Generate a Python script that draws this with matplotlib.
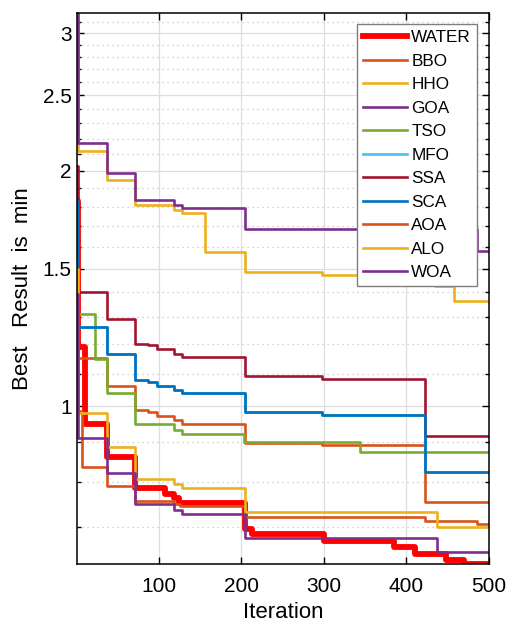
import numpy as np
import matplotlib
matplotlib.use("Agg")
import matplotlib.pyplot as plt

plt.rcParams["font.family"] = ["Liberation Sans", "DejaVu Sans"]

# best-so-far value per algorithm, stored as (iteration where value changes, value)
water_it = [1, 2, 11, 37, 71, 108, 118, 124, 204, 213, 300, 385, 410, 448, 470, 500]
water_val = [1.83, 1.19, 0.95, 0.861, 0.785, 0.772, 0.762, 0.752, 0.697, 0.687,
             0.673, 0.661, 0.646, 0.635, 0.628, 0.628]

bbo_it = [1, 2, 37, 71, 87, 98, 118, 128, 204, 298, 422, 500]
bbo_val = [1.45, 1.154, 1.062, 0.988, 0.982, 0.972, 0.960, 0.950, 0.897, 0.891, 0.753, 0.753]

hho_it = [1, 2, 37, 71, 118, 128, 156, 204, 298, 434, 458, 500]
hho_val = [3.07, 2.12, 1.948, 1.807, 1.782, 1.768, 1.573, 1.486, 1.470, 1.426, 1.363, 1.363]

goa_it = [1, 2, 37, 71, 118, 128, 204, 485, 500]
goa_val = [3.185, 2.169, 1.987, 1.835, 1.808, 1.792, 1.686, 1.580, 1.580]

tso_it = [1, 2, 23, 37, 71, 118, 128, 203, 344, 500]
tso_val = [1.5, 1.311, 1.1475, 1.038, 0.948, 0.932, 0.921, 0.899, 0.873, 0.873]

sca_it = [1, 2, 37, 71, 87, 98, 118, 128, 204, 298, 423, 500]
sca_val = [1.83, 1.263, 1.165, 1.080, 1.074, 1.062, 1.049, 1.039, 0.982, 0.973, 0.8225, 0.8225]

mfo_it = sca_it
mfo_val = sca_val

ssa_it = [1, 2, 37, 71, 87, 98, 118, 128, 204, 298, 423, 500]
ssa_val = [2.03, 1.40, 1.292, 1.2016, 1.196, 1.182, 1.167, 1.155, 1.0935, 1.083, 0.915, 0.915]

aoa_it = [1, 2, 7, 37, 71, 118, 126, 204, 423, 486, 500]
aoa_val = [1.07, 0.985, 0.835, 0.791, 0.756, 0.750, 0.745, 0.722, 0.713, 0.706, 0.706]

alo_it = [1, 2, 37, 71, 118, 128, 204, 437, 500]
alo_val = [1.5, 0.979, 0.887, 0.808, 0.796, 0.786, 0.732, 0.700, 0.700]

woa_it = [1, 2, 37, 71, 118, 128, 204, 437, 500]
woa_val = [1.39, 0.911, 0.8216, 0.749, 0.736, 0.7288, 0.678, 0.6497, 0.6497]

names = ["WATER", "BBO", "HHO", "GOA", "TSO", "MFO", "SSA", "SCA", "AOA", "ALO", "WOA"]
series = [(water_it, water_val), (bbo_it, bbo_val), (hho_it, hho_val), (goa_it, goa_val),
          (tso_it, tso_val), (mfo_it, mfo_val), (ssa_it, ssa_val), (sca_it, sca_val),
          (aoa_it, aoa_val), (alo_it, alo_val), (woa_it, woa_val)]
colors = ["#FF0000", "#D95319", "#EDB120", "#7E2F8E", "#77AC30", "#4DBEEE",
          "#A2142F", "#0072BD", "#D95319", "#EDB120", "#7E2F8E"]
widths = [4.2] + [1.9] * 10

fig = plt.figure(figsize=(5.07, 6.26), dpi=100)
ax = fig.add_axes([0.152, 0.099, 0.8126, 0.8802])

for name, (it, val), c, lw in zip(names, series, colors, widths):
    ax.step(it, val, where="post", color=c, lw=lw, label=name)

ax.set_yscale("log")
ax.set_xlim(1, 500)
ax.set_ylim(min(water_val), max(goa_val))

ax.set_xticks([100, 200, 300, 400, 500])
ax.set_yticks([1, 1.5, 2, 2.5, 3])
ax.set_yticklabels(["1", "1.5", "2", "2.5", "3"])
minor = [0.7, 0.8, 0.9, 1.1, 1.2, 1.3, 1.4, 1.6, 1.7, 1.8, 1.9,
         2.1, 2.2, 2.3, 2.4, 2.6, 2.7, 2.8, 2.9, 3.1]
ax.set_yticks(minor, minor=True)
ax.yaxis.set_minor_formatter(matplotlib.ticker.NullFormatter())
ax.xaxis.set_minor_locator(matplotlib.ticker.NullLocator())

ax.grid(True, which="major", color="#dedede", lw=0.9, ls="-")
ax.grid(True, which="minor", axis="y", color="#c4c4c4", lw=0.9, ls=(0, (1, 3)))
ax.set_axisbelow(True)

ax.tick_params(which="both", direction="in", top=True, right=True, labelsize=15)
ax.tick_params(which="major", length=5, width=1)
ax.tick_params(which="minor", length=3, width=1)
ax.tick_params(axis="x", pad=9)
ax.tick_params(axis="y", pad=4)
for s in ax.spines.values():
    s.set_linewidth(1.1)

ax.set_xlabel("Iteration", fontsize=16, labelpad=5)
ax.set_ylabel("Best   Result  is  min", fontsize=16, labelpad=7)

leg = ax.legend(loc="upper right", bbox_to_anchor=(0.971, 0.98), fontsize=12.3,
                fancybox=False, framealpha=1, edgecolor="#7f7f7f",
                handlelength=2.6, handletextpad=0.25, labelspacing=0.5,
                borderpad=0.35, borderaxespad=0)
leg.get_frame().set_linewidth(1.0)

plt.savefig("out.png", dpi=100)
